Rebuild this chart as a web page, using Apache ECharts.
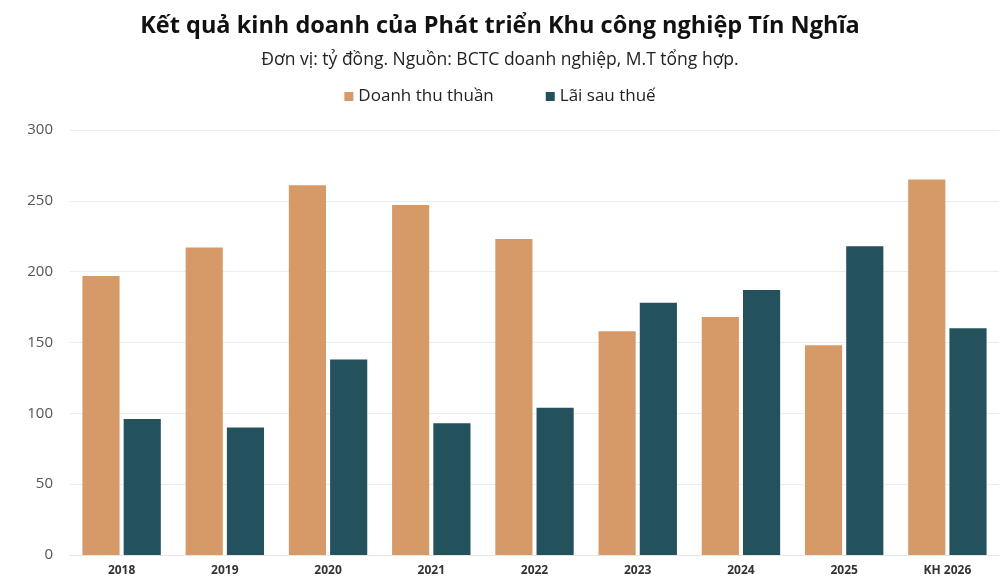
<!DOCTYPE html>
<html lang="vi">
  <head>
    <meta charset="UTF-8" />
    <script src="https://cdn.jsdelivr.net/npm/echarts@6/dist/echarts.min.js"></script>
    <title>Tín Nghĩa</title>
    <style>
      html, body { margin: 0; padding: 0; background: #fff; }
    </style>
  </head>
  <body>
    <div id="main" style="width: 1000px; height: 583px"></div>
    <script>
      var years = ["2018", "2019", "2020", "2021", "2022", "2023", "2024", "2025", "KH 2026"];
      var doanhThu = [197, 217, 261, 247, 223, 158, 168, 148, 265];
      var laiSauThue = [96, 90, 138, 93, 104, 178, 187, 218, 160];
      var yTicks = [0, 50, 100, 150, 200, 250, 300];

      var chart = echarts.init(document.getElementById("main"));
      var font = "Open Sans";

      var option = {
        animation: false,
        textStyle: { fontFamily: font },
        title: [
          {
            text: "Kết quả kinh doanh của Phát triển Khu công nghiệp Tín Nghĩa",
            left: "center",
            top: 9,
            textStyle: { fontSize: 23.5, fontWeight: "bold", color: "#111", fontFamily: font }
          },
          {
            text: "Đơn vị: tỷ đồng. Nguồn: BCTC doanh nghiệp, M.T tổng hợp.",
            left: "center",
            top: 46,
            textStyle: { fontSize: 17.5, fontWeight: "normal", color: "#222", fontFamily: font }
          }
        ],
        legend: {
          top: 83,
          left: "center",
          itemWidth: 9,
          itemHeight: 9,
          itemGap: 52,
          icon: "rect",
          textStyle: { fontSize: 17, color: "#222", fontFamily: font },
          data: ["Doanh thu thuần", "Lãi sau thuế"]
        },
        grid: { left: 70, right: 1, top: 130, bottom: 28, containLabel: false },
        xAxis: {
          type: "category",
          data: years,
          axisTick: { show: false },
          axisLine: { lineStyle: { color: "#e6e6e6" } },
          axisLabel: { fontSize: 12, fontWeight: "bold", color: "#333", margin: 10 }
        },
        yAxis: {
          type: "value",
          min: yTicks[0],
          max: yTicks[yTicks.length - 1],
          interval: 50,
          axisLine: { show: false },
          axisTick: { show: false },
          splitLine: { lineStyle: { color: "#ececec" } },
          axisLabel: { fontSize: 15, color: "#555", margin: 17 }
        },
        series: [
          {
            name: "Doanh thu thuần",
            type: "bar",
            data: doanhThu,
            barWidth: "36%",
            barGap: "11%",
            itemStyle: { color: "#D69A68" }
          },
          {
            name: "Lãi sau thuế",
            type: "bar",
            data: laiSauThue,
            barWidth: "36%",
            itemStyle: { color: "#23525D" }
          }
        ]
      };

      chart.setOption(option);
    </script>
  </body>
</html>
